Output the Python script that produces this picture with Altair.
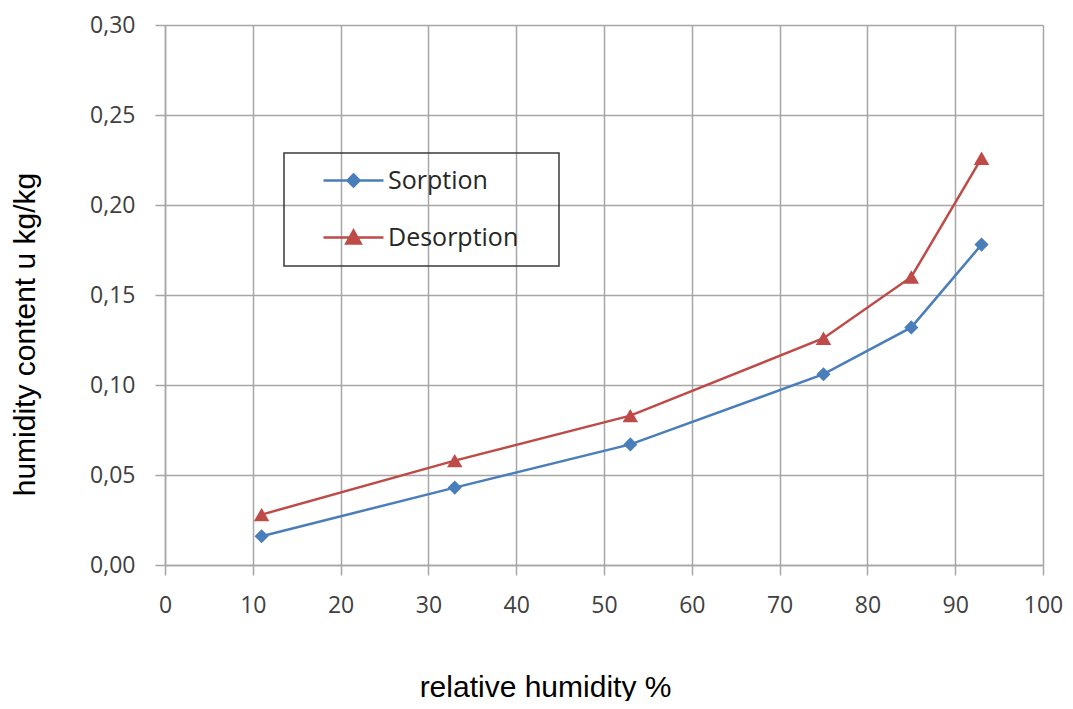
import altair as alt
import pandas as pd

rh = [11, 33, 53, 75, 85, 93]
sorption = [0.016, 0.043, 0.067, 0.106, 0.132, 0.178]
desorption = [0.028, 0.058, 0.083, 0.126, 0.160, 0.226]
series_names = ["Sorption", "Desorption"]
series_colors = ["#4A7EBB", "#BE4B48"]
x_ticks = [0, 10, 20, 30, 40, 50, 60, 70, 80, 90, 100]
y_ticks = [0.0, 0.05, 0.10, 0.15, 0.20, 0.25, 0.30]

rows = []
for name, vals in zip(series_names, [sorption, desorption]):
    for x, y in zip(rh, vals):
        rows.append({"rh": x, "u": y, "series": name})
df = pd.DataFrame(rows)

GRID = "#A6A6A6"
TICKFONT = "Open Sans"
TOP = 17
H = 540

x_enc = alt.X(
    "rh:Q",
    scale=alt.Scale(domain=[0, 100], nice=False),
    axis=alt.Axis(
        values=x_ticks, title="relative humidity %", titleX=380, titleY=122,
        titleBaseline="middle", titleAlign="center", titleAnchor="start",
        labelPadding=19, labelFlush=False,
    ),
)
y_enc = alt.Y(
    "u:Q",
    scale=alt.Scale(domain=[0, 0.30], nice=False),
    axis=alt.Axis(
        values=y_ticks, title="humidity content u kg/kg",
        labelExpr="replace(format(datum.value, '.2f'), '.', ',')",
        titleX=-140, titleY=334 - 8 - TOP, titleBaseline="middle", titleAlign="center",
        titleAnchor="start", labelPadding=20, labelFlush=False,
    ),
)

base = alt.Chart(df)

layers = []
shapes = ["diamond", "triangle-up"]
sizes = [200, 240]
for name, col, shp, sz in zip(series_names, series_colors, shapes, sizes):
    sub = base.transform_filter(alt.datum.series == name)
    layers.append(sub.mark_line(color=col, strokeWidth=2.5).encode(x=x_enc, y=y_enc))
    layers.append(
        sub.mark_point(shape=shp, filled=True, size=sz, color=col, opacity=1).encode(x=x_enc, y=y_enc)
    )

legend_paths = [
    "M-3,0H3M0,-0.6L0.6,0L0,0.6L-0.6,0Z",
    "M-3,0H3M0,-0.7L0.72,0.6L-0.72,0.6Z",
]


def mk_legend():
    return alt.Legend(
        title="MM", titleOrient="right", titleFontSize=10, titlePadding=9,
        titleColor="#ffffff", titleOpacity=0,
        orient="none", legendX=119, legendY=153 - 8 - TOP,
        strokeColor="#3A3A3A", padding=15, symbolOffset=42, labelOffset=22,
        rowPadding=31, labelFont=TICKFONT, labelFontSize=25, labelColor="#262626",
        symbolSize=400, symbolStrokeWidth=2.5, labelLimit=500,
    )


legend_layer = base.transform_filter("false").mark_point(
    filled=True, strokeWidth=2.5, size=400, opacity=1
).encode(
    x=x_enc,
    y=y_enc,
    color=alt.Color("series:N", scale=alt.Scale(domain=series_names, range=series_colors), legend=mk_legend()),
    stroke=alt.Stroke("series:N", scale=alt.Scale(domain=series_names, range=series_colors), legend=mk_legend()),
    shape=alt.Shape("series:N", scale=alt.Scale(domain=series_names, range=legend_paths), legend=mk_legend()),
)

chart = alt.layer(*layers, legend_layer).properties(
    width=878, height=H,
    autosize=alt.AutoSizeParams(type="none"),
    padding={"left": 157, "top": TOP, "right": 22, "bottom": 136},
).configure_view(stroke=None).configure_axis(
    gridColor=GRID, gridWidth=1.5, domainColor=GRID, domainWidth=1.5,
    tickColor=GRID, tickWidth=1.5, tickSize=10,
    labelFont=TICKFONT, labelFontSize=23, labelColor="#404040",
    titleFont="Liberation Sans", titleFontSize=30, titleFontWeight="normal", titleColor="#000000",
).configure_legend(strokeWidth=1.5)

chart.save("out.html", embed_options={"renderer": "svg", "actions": False})
